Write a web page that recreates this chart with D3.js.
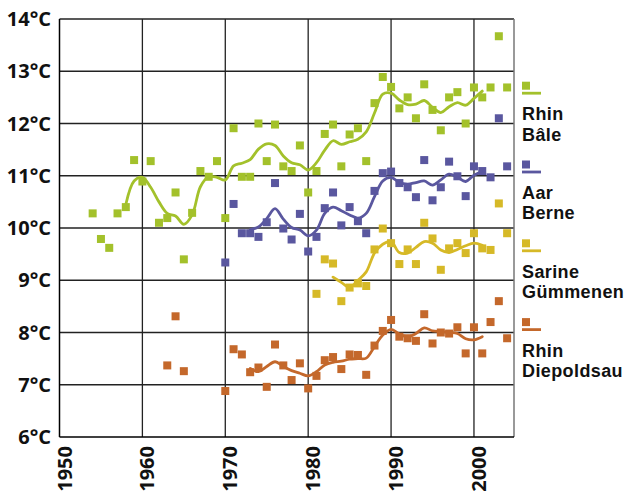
<!DOCTYPE html>
<html><head><meta charset="utf-8">
<script src="https://cdn.jsdelivr.net/npm/d3@7"></script>
<style>body{margin:0;background:#fff}svg{display:block}text{font-family:"Open Sans",sans-serif;font-weight:700;fill:#111}text.leg{font-family:"Liberation Sans",Arial,sans-serif}</style>
</head><body><svg id="c" width="630" height="494"></svg>
<script>
const yTicks = [6,7,8,9,10,11,12,13,14];
const xTicks = [1950,1960,1970,1980,1990,2000];

const rhinBaleYears = [1954,1955,1956,1957,1958,1959,1960,1961,1962,1963,1964,1965,1966,1967,1968,1969,1970,1971,1972,1973,1974,1975,1976,1977,1978,1979,1980,1981,1982,1983,1984,1985,1986,1987,1988,1989,1990,1991,1992,1993,1994,1995,1996,1997,1998,1999,2000,2001,2002,2003,2004];
const rhinBaleValues = [10.28,9.79,9.62,10.28,10.40,11.30,10.89,11.28,10.10,10.19,10.68,9.40,10.29,11.09,10.98,11.28,10.19,11.91,10.98,10.98,12.00,11.28,11.98,11.18,11.09,11.58,10.68,11.09,11.80,11.98,11.18,11.79,11.91,11.28,12.39,12.89,12.70,12.29,12.50,12.10,12.75,12.26,11.87,12.50,12.60,12.00,12.69,12.50,12.69,13.67,12.69];
const rhinBaleTrendYears = [1958,1959,1960,1961,1962,1963,1964,1965,1966,1967,1968,1969,1970,1971,1972,1973,1974,1975,1976,1977,1978,1979,1980,1981,1982,1983,1984,1985,1986,1987,1988,1989,1990,1991,1992,1993,1994,1995,1996,1997,1998,1999,2000,2001];
const rhinBaleTrend = [10.45,10.90,10.97,10.78,10.50,10.28,10.23,10.07,10.25,10.79,10.98,10.97,10.92,11.19,11.24,11.31,11.51,11.61,11.58,11.38,11.25,11.21,11.11,11.25,11.49,11.67,11.60,11.65,11.70,11.84,12.20,12.56,12.58,12.45,12.36,12.37,12.44,12.31,12.21,12.32,12.40,12.35,12.48,12.62];

const aarYears = [1970,1971,1972,1973,1974,1975,1976,1977,1978,1979,1980,1981,1982,1983,1984,1985,1986,1987,1988,1989,1990,1991,1992,1993,1994,1995,1996,1997,1998,1999,2000,2001,2002,2003,2004];
const aarValues = [9.34,10.46,9.90,9.90,9.83,10.11,10.86,9.99,9.78,10.27,9.55,9.83,10.38,10.68,10.05,10.40,10.13,9.90,10.71,11.05,11.08,10.86,10.78,10.59,11.30,10.53,10.78,11.27,10.99,10.61,11.18,11.09,10.97,12.10,11.18];
const aarTrendYears = [1973,1974,1975,1976,1977,1978,1979,1980,1981,1982,1983,1984,1985,1986,1987,1988,1989,1990,1991,1992,1993,1994,1995,1996,1997,1998,1999,2000,2001];
const aarTrend = [9.97,10.02,10.18,10.37,10.17,10.01,9.96,9.85,9.96,10.28,10.40,10.33,10.25,10.19,10.28,10.60,10.90,10.97,10.87,10.84,10.87,10.90,10.82,10.92,11.03,10.97,10.89,11.01,11.08];

const sarineYears = [1981,1982,1983,1984,1985,1986,1987,1988,1989,1990,1991,1992,1993,1994,1995,1996,1997,1998,1999,2000,2001,2002,2003,2004];
const sarineValues = [8.74,9.40,9.32,8.60,8.86,8.94,8.89,9.59,9.99,9.71,9.31,9.59,9.31,10.10,9.80,9.20,9.61,9.71,9.52,9.90,9.61,9.58,10.47,9.90];
const sarineTrendYears = [1983,1984,1985,1986,1987,1988,1989,1990,1991,1992,1993,1994,1995,1996,1997,1998,1999,2000,2001];
const sarineTrend = [9.06,8.96,8.86,9.00,9.16,9.52,9.69,9.74,9.53,9.52,9.63,9.74,9.71,9.58,9.53,9.59,9.66,9.71,9.67];

const diepYears = [1963,1964,1965,1970,1971,1972,1973,1974,1975,1976,1977,1978,1979,1980,1981,1982,1983,1984,1985,1986,1987,1988,1989,1990,1991,1992,1993,1994,1995,1996,1997,1998,1999,2000,2001,2002,2003,2004];
const diepValues = [7.37,8.31,7.26,6.88,7.68,7.58,7.24,7.33,6.96,7.77,7.37,7.09,7.41,6.93,7.17,7.47,7.53,7.30,7.58,7.57,7.19,7.75,8.03,8.24,7.92,7.89,7.84,8.35,7.79,8.00,7.98,8.10,7.60,8.10,7.60,8.20,8.60,7.89];
const diepTrendYears = [1973,1974,1975,1976,1977,1978,1979,1980,1981,1982,1983,1984,1985,1986,1987,1988,1989,1990,1991,1992,1993,1994,1995,1996,1997,1998,1999,2000,2001];
const diepTrend = [7.31,7.25,7.35,7.44,7.35,7.27,7.22,7.17,7.25,7.38,7.43,7.45,7.49,7.50,7.51,7.73,7.95,8.06,7.97,7.92,7.98,8.09,8.03,8.02,8.00,7.98,7.88,7.86,7.92];

const seriesNames = [["Rhin","Bâle"],["Aar","Berne"],["Sarine","Gümmenen"],["Rhin","Diepoldsau"]];
const seriesColors = ["#a3c12b","#5a579f","#d6b927","#c4682b"];

const series = [
  {pY: rhinBaleYears, pV: rhinBaleValues, tY: rhinBaleTrendYears, tV: rhinBaleTrend},
  {pY: aarYears, pV: aarValues, tY: aarTrendYears, tV: aarTrend},
  {pY: sarineYears, pV: sarineValues, tY: sarineTrendYears, tV: sarineTrend},
  {pY: diepYears, pV: diepValues, tY: diepTrendYears, tV: diepTrend}
];

const L = 59.5, R = 514, T = 19, B = 437;
const x = d3.scaleLinear().domain([1950, 2004.83]).range([L, R]);
const y = d3.scaleLinear().domain([6, 14]).range([B, T]);
const svg = d3.select("#c");

// grid
const g = svg.append("g");
g.selectAll("line.h").data(yTicks.filter(d => d > 6)).enter().append("line")
  .attr("x1", L).attr("x2", R).attr("y1", d => y(d)).attr("y2", d => y(d))
  .attr("stroke", "#222").attr("stroke-width", 1.3);
g.selectAll("line.v").data(xTicks.filter(d => d > 1950)).enter().append("line")
  .attr("x1", d => x(d)).attr("x2", d => x(d)).attr("y1", T).attr("y2", B)
  .attr("stroke", "#222").attr("stroke-width", 1.3);
g.append("line").attr("x1", R).attr("x2", R).attr("y1", T).attr("y2", B).attr("stroke", "#777").attr("stroke-width", 1.5);
g.append("line").attr("x1", L).attr("x2", L).attr("y1", T).attr("y2", B).attr("stroke", "#000").attr("stroke-width", 1.5);
g.append("line").attr("x1", L).attr("x2", R).attr("y1", B).attr("y2", B).attr("stroke", "#000").attr("stroke-width", 1.5);

// y labels
svg.selectAll("text.yl").data(yTicks).enter().append("text")
  .attr("x", 51).attr("y", d => y(d)).attr("dy", "0.36em")
  .attr("text-anchor", "end").attr("font-size", 20).text(d => d + "°C");
// x labels
svg.selectAll("text.xl").data(xTicks).enter().append("text")
  .attr("transform", d => `translate(${x(d) + 12},446) rotate(-90)`)
  .attr("text-anchor", "end").attr("font-size", 20).text(d => d);

const line = d3.line().x(d => x(d[0])).y(d => y(d[1])).curve(d3.curveCatmullRom.alpha(0.5));
const sz = 8;
series.forEach((s, i) => {
  const col = seriesColors[i];
  svg.append("path").datum(s.tY.map((yr, k) => [yr, s.tV[k]]))
    .attr("d", line).attr("fill", "none").attr("stroke", col).attr("stroke-width", 2.8)
    .attr("stroke-linejoin", "round").attr("stroke-linecap", "round");
  svg.append("g").selectAll("rect").data(s.pY.map((yr, k) => [yr, s.pV[k]])).enter().append("rect")
    .attr("x", d => x(d[0]) - sz / 2).attr("y", d => y(d[1]) - sz / 2)
    .attr("width", sz).attr("height", sz).attr("fill", col);
});

// legend
seriesNames.forEach((nm, i) => {
  const top = 81.7 + i * 78.8;
  const col = seriesColors[i];
  svg.append("rect").attr("x", 522).attr("y", top).attr("width", 8).attr("height", 8).attr("fill", col);
  svg.append("line").attr("x1", 522).attr("x2", 541).attr("y1", top + 11.5).attr("y2", top + 11.5)
    .attr("stroke", col).attr("stroke-width", 2.8);
  const t = svg.append("text").attr("class", "leg").attr("x", 522).attr("y", top + 38.5)
    .attr("font-size", 18).attr("letter-spacing", 0.4);
  t.append("tspan").attr("x", 522).text(nm[0]);
  t.append("tspan").attr("x", 522).attr("dy", 20.3).text(nm[1]);
});
</script></body></html>
